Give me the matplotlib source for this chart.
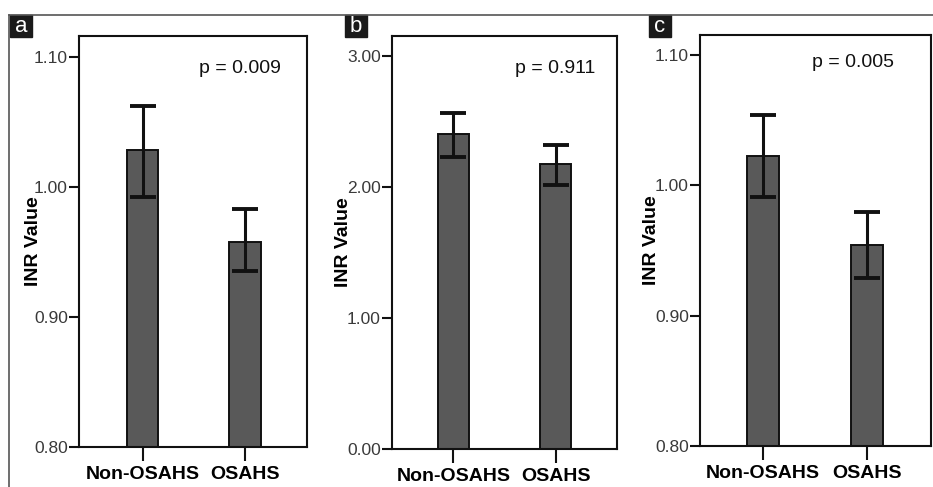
import numpy as np
import matplotlib
matplotlib.use("Agg")
import matplotlib.pyplot as plt

groups = ["Non-OSAHS", "OSAHS"]
panels = ["a", "b", "c"]
p_texts = ["p = 0.009", "p = 0.911", "p = 0.005"]

# means and error bar ends
means_a = [1.028, 0.958]
err_lo_a = [0.992, 0.935]
err_hi_a = [1.062, 0.983]

means_b = [2.40, 2.17]
err_lo_b = [2.23, 2.01]
err_hi_b = [2.56, 2.32]

means_c = [1.022, 0.954]
err_lo_c = [0.991, 0.929]
err_hi_c = [1.054, 0.979]

yticks_a = [0.80, 0.90, 1.00, 1.10]
yticks_b = [0.00, 1.00, 2.00, 3.00]
yticks_c = [0.80, 0.90, 1.00, 1.10]

W, H = 933, 487
fig = plt.figure(figsize=(W / 100, H / 100), dpi=100)
SANS = ["Liberation Sans", "DejaVu Sans"]


def px_axes(left, right, top, bottom):
    return fig.add_axes([left / W, 1 - bottom / H, (right - left) / W, (bottom - top) / H])


def panel(ax, means, lo, hi, yticks, ylim, xlim, ptxt, ppos, labx):
    x = np.arange(len(groups))
    means = np.array(means)
    yerr = np.vstack([means - np.array(lo), np.array(hi) - means])
    ax.bar(x, means, width=0.31, color="#595959", edgecolor="#111111", linewidth=1.4,
           zorder=2)
    ax.errorbar(x, means, yerr=yerr, fmt="none", ecolor="#111111", elinewidth=2.2,
                capsize=9.5, capthick=2.8, zorder=3)
    ax.set_ylim(*ylim)
    ax.set_xlim(*xlim)
    ax.set_yticks(yticks)
    ax.set_yticklabels(["%.2f" % v for v in yticks], family=SANS, fontsize=12.5,
                       color="#3a3a3a")
    ax.set_xticks(x)
    ax.set_xticklabels(groups, fontweight="bold", fontsize=14, family=SANS)
    ax.tick_params(axis="y", length=7, width=1.5, pad=1, color="#111111")
    ax.tick_params(axis="x", length=10, width=1.5, pad=4, color="#111111")
    for s in ax.spines.values():
        s.set_linewidth(1.5)
        s.set_color("#111111")
    ax.set_ylabel("INR Value", fontweight="bold", fontsize=14, family=SANS)
    ax.yaxis.set_label_coords(labx, 0.5)
    ax.text(ppos[0], ppos[1], ptxt, transform=ax.transAxes, ha="center", va="center",
            fontsize=14, family=SANS, color="#111111")


ax_a = px_axes(79, 307, 36, 447)
panel(ax_a, means_a, err_lo_a, err_hi_a, yticks_a, (0.80, 1.116), (-0.62, 1.605),
      p_texts[0], (0.706, 0.922), -0.162)
ax_b = px_axes(392, 617, 36, 449)
panel(ax_b, means_b, err_lo_b, err_hi_b, yticks_b, (0.0, 3.15), (-0.60, 1.60),
      p_texts[1], (0.724, 0.922), -0.178)
ax_c = px_axes(700, 931, 35, 446)
panel(ax_c, means_c, err_lo_c, err_hi_c, yticks_c, (0.80, 1.115), (-0.606, 1.615),
      p_texts[2], (0.662, 0.934), -0.173)

# frame lines and panel letters
fig.add_artist(plt.Line2D([9 / W, 1], [1 - 15 / H, 1 - 15 / H], color="#555555", lw=1.2))
fig.add_artist(plt.Line2D([9 / W, 9 / W], [0, 1 - 15 / H], color="#555555", lw=1.2))
for letter, lx in zip(panels, [10, 345, 649]):
    fig.add_artist(plt.Rectangle((lx / W, 1 - 37 / H), 22 / W, 22 / H,
                                 color="#1a1a1a", transform=fig.transFigure))
    fig.text((lx + 11) / W, 1 - 27 / H, letter, color="white", fontsize=16,
             ha="center", va="center", family=SANS)

fig.savefig("out.png", dpi=100)
